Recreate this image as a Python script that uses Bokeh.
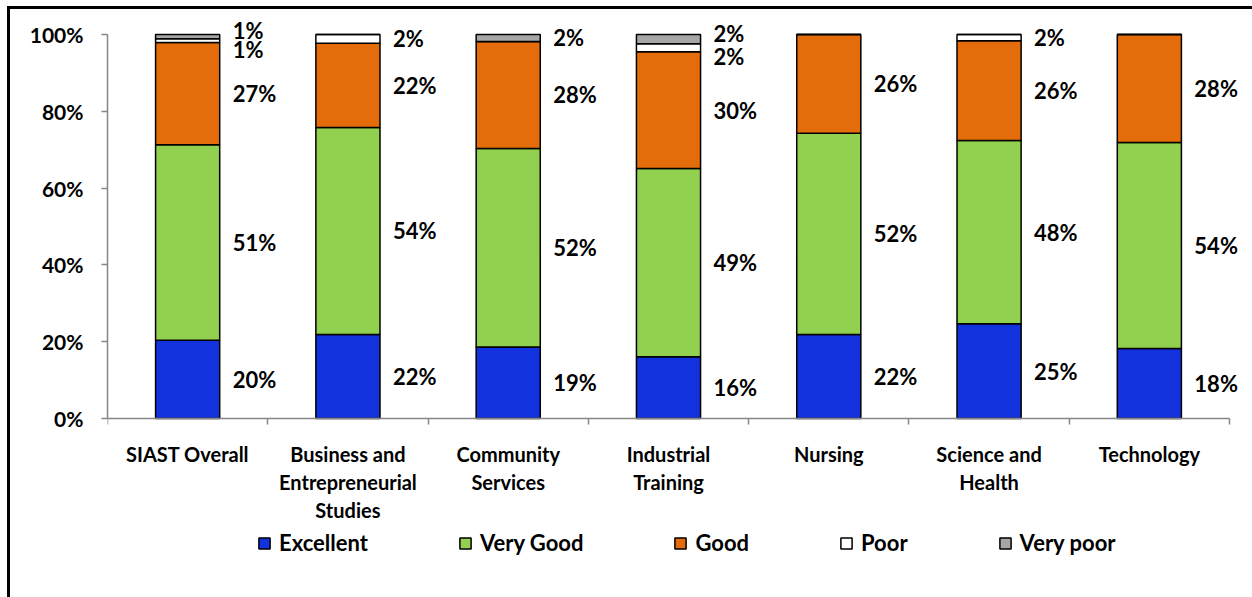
from bokeh.plotting import figure
from bokeh.models import (Range1d, FixedTicker, Legend, LegendItem, ColumnDataSource,
                          PrintfTickFormatter)
from bokeh.core.properties import value
from bokeh.embed import file_html
from bokeh.resources import INLINE

categories = ["SIAST Overall", "Business and\nEntrepreneurial\nStudies", "Community\nServices",
              "Industrial\nTraining", "Nursing", "Science and\nHealth", "Technology"]
series_names = ["Excellent", "Very Good", "Good", "Poor", "Very poor"]
excellent = [20.4, 21.9, 18.6, 16.1, 21.9, 24.7, 18.2]
very_good = [50.9, 53.9, 51.7, 49.0, 52.4, 47.7, 53.7]
good = [26.6, 21.9, 27.9, 30.4, 25.7, 26.0, 28.1]
poor = [1.0, 2.3, 0.0, 2.1, 0.0, 1.6, 0.0]
very_poor = [1.1, 0.0, 1.8, 2.4, 0.0, 0.0, 0.0]
y_ticks = [0, 20, 40, 60, 80, 100]

colors = ["#1232DE", "#92D050", "#E46C0A", "#FFFFFF", "#A6A6A6"]
FONT = "Lato"

series = [excellent, very_good, good, poor, very_poor]
keys = ["s0", "s1", "s2", "s3", "s4"]
n = len(categories)
xs = [i + 0.5 for i in range(n)]
data = {"x": xs}
for k, s in zip(keys, series):
    data[k] = s
src = ColumnDataSource(data)

PX_PER_PCT = 3.84
PX_PER_CAT = 160.29
# the frame extends beyond the axes so that labels and the legend are not clipped
p = figure(frame_width=1145, frame_height=583, output_backend="svg", toolbar_location=None,
           x_range=Range1d(0, n + 23 / PX_PER_CAT),
           y_range=Range1d(-179 / PX_PER_PCT, 100 + 20 / PX_PER_PCT),
           min_border_left=97, min_border_top=5, min_border_right=0)
p.outline_line_color = None
p.xgrid.grid_line_color = None
p.ygrid.grid_line_color = None
p.background_fill_color = "white"
p.border_fill_color = "white"
p.styles = {"border-top": "3px solid black", "border-left": "3px solid black",
            "margin-left": "7px", "margin-top": "6px"}

rs = p.vbar_stack(keys, x="x", width=0.4, source=src, fill_color=colors,
                  line_color="black", line_width=1.5)

# labels
lx, ly, lt, lyo = [], [], [], []
for i in range(n):
    base = 0.0
    both_small = poor[i] > 0 and very_poor[i] > 0
    for j, s in enumerate(series):
        v = s[i]
        if v > 0:
            lx.append(xs[i])
            ly.append(base + v / 2)
            lt.append(f"{round(v)}%")
            off = 0
            if both_small and j == 3:
                off = 9
            elif both_small and j == 4:
                off = -6
            lyo.append(off)
        base += v
lsrc = ColumnDataSource(dict(x=lx, y=ly, text=lt, yo=lyo))
p.text(x="x", y="y", text="text", source=lsrc, x_offset=45, y_offset="yo",
       text_font=value(FONT), text_font_style="bold", text_font_size="22px",
       text_baseline="middle", text_align="left", text_color="black")

# y axis
ya = p.yaxis[0]
ya.bounds = (0, 100)
ya.ticker = FixedTicker(ticks=y_ticks)
ya.formatter = PrintfTickFormatter(format="%d%%")
ya.axis_line_color = "#868686"
ya.axis_line_width = 1.5
ya.major_tick_line_color = "#868686"
ya.major_tick_line_width = 1.5
ya.major_tick_out = 6
ya.major_tick_in = 0
ya.minor_tick_line_color = None
ya.major_label_text_font = FONT
ya.major_label_text_font_style = "bold"
ya.major_label_text_font_size = "21px"
ya.major_label_text_color = "black"
ya.major_label_standoff = 18

# x axis, drawn at the 0% line
xa = p.xaxis[0]
xa.fixed_location = 0
xa.bounds = (0, n)
xa.ticker = FixedTicker(ticks=xs, minor_ticks=list(range(n + 1)))
xa.major_label_overrides = {x: c for x, c in zip(xs, categories)}
xa.axis_line_color = "#868686"
xa.axis_line_width = 1.5
xa.major_tick_line_color = None
xa.minor_tick_line_color = "#868686"
xa.minor_tick_line_width = 1.5
xa.minor_tick_out = 6
xa.minor_tick_in = 0
xa.major_label_text_font = FONT
xa.major_label_text_font_style = "bold"
xa.major_label_text_font_size = "20px"
xa.major_label_text_color = "black"
xa.major_label_text_line_height = 1.17
xa.major_label_standoff = 17

legend = Legend(items=[LegendItem(label=nm, renderers=[r]) for nm, r in zip(series_names, rs)],
                orientation="horizontal", location=(150, 41), spacing=90,
                glyph_width=14, glyph_height=14, label_standoff=8,
                label_text_font=FONT, label_text_font_style="bold",
                label_text_font_size="22px", label_text_color="black",
                border_line_color=None, background_fill_alpha=0, padding=0, margin=0)
p.add_layout(legend)

open("out.html", "w").write(file_html(p, INLINE))
